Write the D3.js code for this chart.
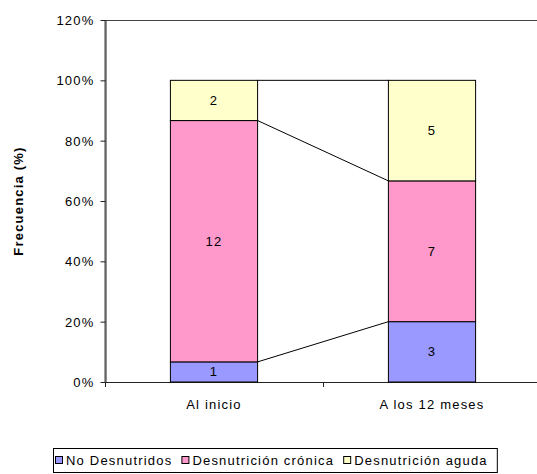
<!DOCTYPE html>
<html>
<head>
<meta charset="utf-8">
<script src="https://cdn.jsdelivr.net/npm/d3@7"></script>
<style>
  body { margin: 0; background: #fff; }
  text { font-family: "Liberation Sans", Arial, sans-serif; font-size: 13px; letter-spacing: 1.2px; fill: #000; }
</style>
</head>
<body>
<div id="chart"></div>
<script>
// datos
var categorias = ["Al inicio", "A los 12 meses"];
var series = ["No Desnutridos", "Desnutrición crónica", "Desnutrición aguda"];
var noDesnutridos = [1, 3];
var desnCronica = [12, 7];
var desnAguda = [2, 5];
var yTicks = [0, 0.2, 0.4, 0.6, 0.8, 1.0, 1.2];

var colores = ["#9999ff", "#ff99cc", "#ffffcc"];

var W = 537, H = 474;
var plot = { left: 105, top: 20, right: 541, bottom: 382 };

var svg = d3.select("#chart").append("svg")
    .attr("width", W)
    .attr("height", H);

var tabla = categorias.map(function(c, i) {
    return {
        cat: c,
        "No Desnutridos": noDesnutridos[i],
        "Desnutrición crónica": desnCronica[i],
        "Desnutrición aguda": desnAguda[i]
    };
});

var stack = d3.stack().keys(series).offset(d3.stackOffsetExpand);
var capas = stack(tabla);

// escalas
var x = d3.scaleBand()
    .domain(categorias)
    .range([plot.left, plot.right])
    .paddingInner(0.6)
    .paddingOuter(0.3);

var y = d3.scaleLinear()
    .domain([0, 1.2])
    .range([plot.bottom, plot.top]);

// borde del area de trazado
svg.append("rect")
    .attr("x", plot.left)
    .attr("y", plot.top + 0.5)
    .attr("width", plot.right - plot.left)
    .attr("height", plot.bottom - plot.top)
    .attr("fill", "none")
    .attr("stroke", "#444");

// Eje Y
var yAxis = d3.axisLeft(y)
    .tickValues(yTicks)
    .tickFormat(d3.format(".0%"))
    .tickSize(5)
    .tickSizeOuter(0)
    .tickPadding(6);

var gy = svg.append("g")
    .attr("transform", "translate(" + (plot.left + 0.5) + ",0)")
    .call(yAxis);
gy.select(".domain").attr("stroke", "#222");
gy.selectAll(".tick line").attr("stroke", "#222");
gy.selectAll("text").attr("font-size", null).attr("font-family", null).attr("dy", "0.35em");

// Eje X
svg.append("line")
    .attr("x1", plot.left)
    .attr("x2", plot.right)
    .attr("y1", plot.bottom + 0.5)
    .attr("y2", plot.bottom + 0.5)
    .attr("stroke", "#222");

var hueco = (x.step() - x.bandwidth()) / 2;
var limites = categorias.map(function(c) { return x(c) - hueco; });
limites.push(x(categorias[categorias.length - 1]) + x.bandwidth() + hueco);

svg.selectAll(".xtick")
    .data(limites)
    .enter().append("line")
    .attr("class", "xtick")
    .attr("x1", function(d) { return Math.round(d) + 0.5; })
    .attr("x2", function(d) { return Math.round(d) + 0.5; })
    .attr("y1", plot.bottom)
    .attr("y2", plot.bottom + 5)
    .attr("stroke", "#222");

svg.selectAll(".xlabel")
    .data(categorias)
    .enter().append("text")
    .attr("class", "xlabel")
    .attr("x", function(d) { return x(d) + x.bandwidth() / 2; })
    .attr("y", 409)
    .attr("text-anchor", "middle")
    .text(function(d) { return d; });

// Titulo eje Y
svg.append("text")
    .attr("transform", "translate(23," + ((plot.top + plot.bottom) / 2) + ") rotate(-90)")
    .attr("text-anchor", "middle")
    .attr("font-weight", "bold")
    .text("Frecuencia (%)");

// lineas de series (entre barras)
var lineas = svg.append("g");
capas.forEach(function(capa) {
    lineas.append("line")
        .attr("x1", x(categorias[0]) + x.bandwidth())
        .attr("y1", y(capa[0][1]))
        .attr("x2", x(categorias[1]))
        .attr("y2", y(capa[1][1]))
        .attr("stroke", "#000")
        .attr("stroke-width", 1);
});

// Barras
var grupos = svg.selectAll(".serie")
    .data(capas)
    .enter().append("g")
    .attr("class", "serie")
    .attr("fill", function(d, i) { return colores[i]; });

grupos.selectAll("rect")
    .data(function(d) { return d; })
    .enter().append("rect")
    .attr("x", function(d) { return x(d.data.cat); })
    .attr("y", function(d) { return y(d[1]); })
    .attr("width", x.bandwidth())
    .attr("height", function(d) { return y(d[0]) - y(d[1]); })
    .attr("stroke", "#000")
    .attr("stroke-width", 1);

// etiquetas de valores
grupos.each(function(capa) {
    d3.select(this).selectAll(".val")
        .data(capa)
        .enter().append("text")
        .attr("class", "val")
        .attr("x", function(d) { return x(d.data.cat) + x.bandwidth() / 2; })
        .attr("y", function(d) { return (y(d[0]) + y(d[1])) / 2; })
        .attr("dy", "0.35em")
        .attr("text-anchor", "middle")
        .text(function(d) { return d.data[capa.key]; });
});

// Leyenda
var ley = svg.append("g");
var leyBox = ley.append("rect")
    .attr("y", 448.5)
    .attr("height", 24)
    .attr("fill", "#fff")
    .attr("stroke", "#000");

var cx = 55;
series.forEach(function(s, i) {
    ley.append("rect")
        .attr("x", cx + 0.5)
        .attr("y", 456.5)
        .attr("width", 7)
        .attr("height", 7)
        .attr("fill", colores[i])
        .attr("stroke", "#000");
    var t = ley.append("text")
        .attr("x", cx + 11)
        .attr("y", 460)
        .attr("dy", "0.35em")
        .text(s);
    cx = cx + 11 + t.node().getComputedTextLength() + 9;
});
leyBox.attr("x", 53.5).attr("width", cx - 53);
</script>
</body>
</html>
